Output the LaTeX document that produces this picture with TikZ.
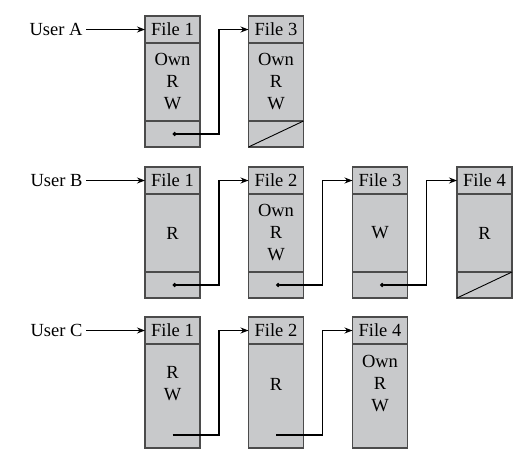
\documentclass[tikz,border=0pt]{standalone}
\usepackage{fontspec}
\setmainfont{Liberation Serif}
\usetikzlibrary{arrows.meta, positioning}
\definecolor{boxgray}{RGB}{200,201,203}
\definecolor{framegray}{RGB}{75,75,75}

\begin{document}
\begin{tikzpicture}[
    x=1pt, y=-1pt,
    font=\fontsize{18.5}{22}\selectfont,
    head/.style={rectangle, draw=framegray, line width=1.4pt, fill=boxgray, minimum width=55pt, minimum height=27pt, inner sep=0pt, outer sep=0pt},
    body/.style={head, minimum height=78pt, align=center},
    ptr/.style={head, minimum height=26pt},
    link/.style={{Circle[length=4.2pt]}-{Stealth[length=8pt, width=6pt]}, line width=1.1pt},
    plain/.style={-{Stealth[length=8pt, width=6pt]}, line width=1.1pt}
]
    \useasboundingbox (0,0) rectangle (523,464);

    % User A
    \node[anchor=east] (ua) at (86,29.5) {User A};
    \node[head] (a1h) at (172.5,29.5) {File 1};
    \node[body, below=0pt of a1h] (a1b) {Own\\R\\W};
    \node[ptr, below=0pt of a1b] (a1p) {};
    \node[head] (a3h) at (276,29.5) {File 3};
    \node[body, below=0pt of a3h] (a3b) {Own\\R\\W};
    \node[ptr, below=0pt of a3b] (a3p) {};

    \draw[plain] (ua) -- (a1h);
    \draw[link] (a1p.center) -| ([xshift=19pt]a1p.east) |- (a3h.west);
    \draw[line width=0.9pt] (a3p.south west) -- (a3p.north east);

    % User B
    \node[anchor=east] (ub) at (86,180.5) {User B};
    \node[head] (b1h) at (172.5,180.5) {File 1};
    \node[body, below=0pt of b1h] (b1b) {R};
    \node[ptr, below=0pt of b1b] (b1p) {};
    \node[head] (b2h) at (276,180.5) {File 2};
    \node[body, below=0pt of b2h] (b2b) {Own\\R\\W};
    \node[ptr, below=0pt of b2b] (b2p) {};
    \node[head] (b3h) at (380,180.5) {File 3};
    \node[body, below=0pt of b3h] (b3b) {W};
    \node[ptr, below=0pt of b3b] (b3p) {};
    \node[head] (b4h) at (484.5,180.5) {File 4};
    \node[body, below=0pt of b4h] (b4b) {R};
    \node[ptr, below=0pt of b4b] (b4p) {};

    \draw[plain] (ub) -- (b1h);
    \draw[link] (b1p.center) -| ([xshift=19pt]b1p.east) |- (b2h.west);
    \draw[link] (b2p.center) -| ([xshift=19pt]b2p.east) |- (b3h.west);
    \draw[link] (b3p.center) -| ([xshift=19pt]b3p.east) |- (b4h.west);
    \draw[line width=0.9pt] (b4p.south west) -- (b4p.north east);

    % User C
    \node[anchor=east] (uc) at (86,330.5) {User C};
    \node[head] (c1h) at (172.5,330.5) {File 1};
    \node[body, minimum height=104pt, below=0pt of c1h] (c1b) {};
    \node[align=center] (c1t) at ([yshift=12pt]c1b.center) {R\\W};
    \node[head] (c2h) at (276,330.5) {File 2};
    \node[body, minimum height=104pt, below=0pt of c2h] (c2b) {};
    \node (c2t) at ([yshift=12pt]c2b.center) {R};
    \node[head] (c4h) at (380,330.5) {File 4};
    \node[body, minimum height=104pt, below=0pt of c4h] (c4b) {};
    \node[align=center] (c4t) at ([yshift=12pt]c4b.center) {Own\\R\\W};
    \coordinate (c1e) at ([yshift=13pt]c1b.south);
    \coordinate (c2e) at ([yshift=13pt]c2b.south);

    \draw[plain] (uc) -- (c1h);
    \draw[plain] (c1e) -| ([xshift=19pt]c1b.east) |- (c2h.west);
    \draw[plain] (c2e) -| ([xshift=19pt]c2b.east) |- (c4h.west);

\end{tikzpicture}
\end{document}
